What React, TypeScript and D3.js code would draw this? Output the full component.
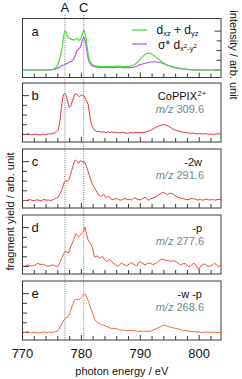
import React from "react";
import * as d3 from "d3";

const xDomain: [number, number] = [770, 803.7];
const xTickLabels = [770, 780, 790, 800];
const xMinorTicks = [770, 772, 774, 776, 778, 780, 782, 784, 786, 788, 790, 792, 794, 796, 798, 800, 802];
const yTicks = [0, 1, 2, 3, 4];
const markerEnergies = [777.2, 780.4];
const markerLabels = ["A", "C"];

const greenData: [number, number][] = [[770,0],[773,0],[774.5,0.02],[775.3,0.1],[775.8,0.35],[776.2,0.9],[776.5,1.6],[776.8,2.6],[777.0,3.5],[777.2,4.05],[777.4,3.85],[777.6,3.5],[777.9,3.3],[778.3,3.15],[778.8,3.1],[779.1,3.2],[779.3,3.25],[779.6,3.05],[779.9,3.2],[780.15,3.7],[780.4,4.07],[780.65,3.7],[780.85,3.0],[781.1,1.8],[781.4,0.95],[781.8,0.6],[782.3,0.45],[783,0.38],[784,0.35],[785,0.34],[785.8,0.38],[786.3,0.42],[786.8,0.36],[787.5,0.35],[788.3,0.4],[789.0,0.55],[789.6,0.85],[790.1,1.2],[790.6,1.5],[791.1,1.7],[791.5,1.73],[792.0,1.62],[792.6,1.35],[793.2,1.05],[793.8,0.78],[794.4,0.55],[795.1,0.38],[795.8,0.28],[796.5,0.2],[797.3,0.1],[798.5,0.03],[800,0],[803.7,0]];

const purpleData: [number, number][] = [[770,0],[774.5,0],[775.3,0.05],[775.8,0.15],[776.3,0.3],[776.8,0.48],[777.2,0.58],[777.6,0.68],[778.0,0.8],[778.5,1.0],[778.9,1.4],[779.2,1.9],[779.5,2.15],[779.8,2.35],[780.1,2.9],[780.4,3.37],[780.6,3.1],[780.8,2.5],[781.0,1.6],[781.3,0.9],[781.6,0.55],[782.0,0.38],[782.5,0.3],[783.5,0.26],[784.5,0.25],[785.5,0.25],[786.3,0.28],[787.2,0.25],[788.3,0.25],[789.2,0.35],[790.0,0.55],[790.8,0.7],[791.6,0.8],[792.3,0.85],[793.0,0.8],[793.6,0.72],[794.3,0.58],[795.1,0.4],[795.9,0.25],[796.9,0.15],[798,0.07],[799.5,0.02],[801,0],[803.7,0]];

const bData: [number, number][] = [[770,0.05],[770.5,0.0],[771,0.08],[771.5,-0.03],[772,0.05],[772.5,0.02],[773,-0.05],[773.5,0.06],[774,0.0],[774.5,0.08],[775,0.05],[775.4,0.15],[775.8,0.3],[776.1,0.45],[776.4,1.6],[776.6,2.8],[776.8,3.65],[777.0,4.15],[777.15,4.24],[777.4,4.05],[777.7,3.3],[777.95,2.8],[778.2,2.95],[778.45,3.4],[778.7,3.85],[778.95,4.2],[779.2,4.15],[779.45,4.0],[779.7,3.9],[779.95,4.05],[780.2,4.05],[780.45,3.95],[780.7,3.6],[780.95,3.4],[781.15,3.1],[781.35,2.2],[781.55,1.5],[781.75,1.0],[782.0,0.65],[782.3,0.4],[782.6,0.3],[783,0.32],[783.4,0.25],[783.8,0.28],[784.2,0.18],[784.5,0.3],[784.8,0.2],[785.2,0.28],[785.6,0.18],[786.0,0.22],[786.4,0.15],[786.9,0.25],[787.3,0.18],[787.8,0.12],[788.3,0.2],[788.8,0.15],[789.3,0.22],[789.8,0.18],[790.3,0.2],[790.8,0.25],[791.3,0.32],[791.8,0.45],[792.3,0.62],[792.8,0.78],[793.2,0.88],[793.6,0.98],[794.0,1.02],[794.4,0.95],[794.8,0.85],[795.2,0.7],[795.6,0.52],[796.0,0.45],[796.5,0.35],[797,0.28],[797.5,0.22],[798,0.18],[798.5,0.12],[799,0.15],[799.5,0.08],[800,0.1],[800.5,0.05],[801,0.08],[801.5,0.02],[802,0.06],[802.5,0.0],[803,0.08],[803.7,0.04]];

const cData: [number, number][] = [[770,0.05],[770.4,0.0],[770.8,0.03],[771.2,0.1],[771.6,0.02],[772,0.0],[772.4,0.07],[772.8,0.03],[773.2,-0.02],[773.6,0.12],[774,0.03],[774.4,0.05],[774.8,0.0],[775.2,0.08],[775.6,0.2],[776,0.3],[776.3,0.6],[776.6,1.0],[776.9,1.5],[777.1,1.9],[777.35,2.07],[777.6,2.0],[777.85,2.1],[778.1,2.55],[778.35,3.1],[778.6,3.6],[778.85,4.1],[779.0,4.17],[779.25,4.02],[779.5,3.82],[779.75,4.07],[780.0,4.05],[780.3,4.0],[780.6,3.9],[780.85,3.5],[781.1,3.05],[781.35,2.6],[781.6,2.1],[781.85,1.7],[782.1,1.45],[782.4,1.1],[782.7,0.8],[783.0,0.55],[783.2,0.42],[783.5,0.5],[783.8,0.65],[784.0,0.4],[784.25,0.28],[784.6,0.46],[784.9,0.25],[785.2,0.1],[785.6,0.15],[786.0,0.22],[786.3,0.1],[786.6,0.03],[787.0,0.12],[787.4,0.22],[787.8,0.1],[788.2,0.12],[788.5,0.05],[788.8,0.2],[789.1,0.3],[789.5,0.12],[790,0.07],[790.4,0.2],[790.8,0.35],[791.1,0.15],[791.4,0.03],[791.8,0.18],[792.2,0.28],[792.6,0.35],[793.0,0.55],[793.4,0.7],[793.9,0.86],[794.3,0.72],[794.6,0.6],[795.0,0.75],[795.5,0.7],[795.9,0.5],[796.3,0.35],[796.8,0.25],[797.2,0.2],[797.7,0.12],[798.1,0.1],[798.6,0.2],[799.2,0.17],[799.7,0.05],[800.2,0.1],[800.6,0.03],[801.2,0.14],[801.7,0.05],[802.2,0.1],[802.7,0.04],[803.2,0.12],[803.7,0.08]];

const dData: [number, number][] = [[770,0.0],[770.4,0.05],[770.9,0.17],[771.3,0.08],[771.7,0.05],[772.1,0.15],[772.6,0.34],[773.0,0.2],[773.4,0.24],[773.9,0.1],[774.3,0.0],[774.7,0.08],[775.2,0.17],[775.6,0.05],[776.0,0.0],[776.3,0.34],[776.6,0.8],[776.9,1.2],[777.2,1.55],[777.5,1.5],[777.8,1.38],[778.0,1.7],[778.2,2.07],[778.45,2.4],[778.7,2.76],[778.9,3.1],[779.1,3.38],[779.3,3.2],[779.5,3.03],[779.75,3.2],[780.0,3.38],[780.2,3.5],[780.35,3.6],[780.5,3.85],[780.6,4.07],[780.75,3.7],[780.9,3.28],[781.1,2.8],[781.25,2.6],[781.5,2.4],[781.7,2.2],[781.9,1.9],[782.05,1.4],[782.2,1.03],[782.45,1.0],[782.7,1.1],[782.9,0.9],[783.1,0.86],[783.4,1.0],[783.7,0.97],[783.95,0.7],[784.2,0.52],[784.5,0.6],[784.8,0.76],[785.1,0.55],[785.4,0.34],[785.8,0.2],[786.2,0.0],[786.5,0.2],[786.8,0.34],[787.2,0.2],[787.7,0.07],[788.1,0.25],[788.5,0.41],[789.0,0.2],[789.4,0.07],[789.9,0.52],[790.3,0.35],[790.8,0.17],[791.2,0.3],[791.7,0.34],[792.1,0.2],[792.5,0.28],[792.9,0.45],[793.3,0.65],[793.7,0.76],[794.1,0.7],[794.5,0.6],[794.8,0.62],[795.2,0.55],[795.6,0.6],[796.0,0.52],[796.4,0.35],[796.8,0.17],[797.3,0.3],[797.7,0.28],[798.0,0.1],[798.3,-0.07],[798.7,0.15],[799.1,0.34],[799.5,0.05],[799.9,-0.28],[800.3,0.05],[800.9,0.28],[801.3,0.1],[801.7,0.0],[802.2,0.15],[802.6,0.34],[803.0,0.15],[803.3,-0.05],[803.7,0.18]];

const eData: [number, number][] = [[770,0.05],[770.4,0.0],[770.8,0.08],[771.2,0.02],[771.6,-0.05],[772.0,0.05],[772.4,0.0],[772.8,-0.05],[773.2,0.03],[773.6,0.07],[774.0,0.0],[774.4,0.05],[774.8,-0.03],[775.2,0.05],[775.6,0.08],[775.9,0.14],[776.2,0.35],[776.5,0.7],[776.8,1.05],[777.05,1.3],[777.3,1.5],[777.55,1.55],[777.8,1.65],[778.0,1.95],[778.2,2.3],[778.45,2.75],[778.7,3.15],[778.95,3.4],[779.2,3.42],[779.45,3.4],[779.7,3.45],[779.95,3.6],[780.2,3.75],[780.4,3.9],[780.55,3.97],[780.75,3.85],[780.95,3.6],[781.2,3.2],[781.4,2.8],[781.6,2.45],[781.85,2.1],[782.05,1.75],[782.25,1.4],[782.5,1.15],[782.8,1.0],[783.1,0.9],[783.4,0.82],[783.8,0.75],[784.2,0.65],[784.6,0.55],[785.1,0.41],[785.5,0.45],[786.0,0.38],[786.4,0.3],[786.8,0.24],[787.2,0.28],[787.6,0.2],[788.0,0.24],[788.5,0.18],[789.0,0.2],[789.5,0.12],[790.0,0.15],[790.5,0.12],[791.0,0.14],[791.5,0.1],[792.0,0.2],[792.5,0.34],[793.0,0.48],[793.4,0.6],[793.8,0.72],[794.1,0.76],[794.4,0.7],[794.8,0.6],[795.3,0.52],[795.8,0.45],[796.3,0.38],[796.8,0.3],[797.3,0.22],[797.8,0.18],[798.3,0.14],[798.8,0.1],[799.4,0.07],[800.0,0.04],[800.6,0.0],[801.2,0.05],[801.8,0.02],[802.4,0.06],[803.0,0.0],[803.7,0.04]];

const panelLetters = ["a", "b", "c", "d", "e"];
const fragmentLabels = ["CoPPIX", "-2w", "-p", "-w -p"];
const mzLabels = ["309.6", "291.6", "277.6", "268.6"];
const fragmentSeries = [bData, cData, dData, eData];
const fragmentColors = ["#e8313a", "#ef3a36", "#f44f38", "#fb6432"];

const FONT = "Arial, 'Liberation Sans', Helvetica, sans-serif";
const LEFT = 22.5;
const RIGHT = 221;
const PANEL_H = 59;
const panelTops = [18.5, 83, 149, 215, 281];

export default function App() {
  const x = d3.scaleLinear().domain(xDomain).range([LEFT, RIGHT]);
  const yFor = (i: number) =>
    d3.scaleLinear().domain([-0.77, 5.3]).range([panelTops[i] + PANEL_H, panelTops[i]]);

  const smoothLine = (ys: d3.ScaleLinear<number, number>) =>
    d3.line<[number, number]>().x((d) => x(d[0])).y((d) => ys(d[1])).curve(d3.curveMonotoneX);
  const rawLine = (ys: d3.ScaleLinear<number, number>) =>
    d3.line<[number, number]>().x((d) => x(d[0])).y((d) => ys(d[1]));

  const axisColor = "#3a3a3a";
  const lastBottom = panelTops[4] + PANEL_H;

  const panelFrame = (i: number, rightTicks: boolean) => {
    const ys = yFor(i);
    const top = panelTops[i];
    const bottom = top + PANEL_H;
    return (
      <g key={"frame" + i}>
        <rect x={LEFT} y={top} width={RIGHT - LEFT} height={PANEL_H} fill="none" stroke={axisColor} strokeWidth={1} />
        {xMinorTicks.map((t) => (
          <line key={t} x1={x(t)} x2={x(t)} y1={bottom} y2={bottom - (t % 10 === 0 ? 5 : 4)} stroke={axisColor} strokeWidth={1} />
        ))}
        {yTicks.map((t) => {
          const len = t === 4 || t === 0 ? 6.5 : 4.5;
          return rightTicks ? (
            <line key={"y" + t} x1={RIGHT} x2={RIGHT - len} y1={ys(t)} y2={ys(t)} stroke={axisColor} strokeWidth={1} />
          ) : (
            <line key={"y" + t} x1={LEFT} x2={LEFT + len} y1={ys(t)} y2={ys(t)} stroke={axisColor} strokeWidth={1} />
          );
        })}
        <text x={35} y={ys(4)} dy="0.36em" textAnchor="middle" fontSize={13} fontFamily={FONT} fill="#111">
          {panelLetters[i]}
        </text>
      </g>
    );
  };

  const ya = yFor(0);

  return (
    <svg width={242} height={379} style={{ position: "absolute", left: 0, top: 0 }} fontFamily={FONT}>
      <rect width={242} height={379} fill="#fff" />
      {markerEnergies.map((e, k) => (
        <g key={"m" + k}>
          <line x1={x(e)} x2={x(e)} y1={15} y2={lastBottom} stroke="#777" strokeWidth={1} strokeDasharray="1,1.3" />
          <text x={x(e)} y={7} dy="0.36em" textAnchor="middle" fontSize={13} fill="#111">
            {markerLabels[k]}
          </text>
        </g>
      ))}

      {panelFrame(0, true)}
      <path d={smoothLine(ya)(purpleData) || ""} fill="none" stroke="#b35ee8" strokeWidth={1.2} />
      <path d={smoothLine(ya)(greenData) || ""} fill="none" stroke="#45e03a" strokeWidth={1.2} />
      <line x1={132} x2={147} y1={30} y2={30} stroke="#45e03a" strokeWidth={1.3} />
      <line x1={132} x2={147} y1={44} y2={44} stroke="#b35ee8" strokeWidth={1.3} />
      <text x={156.5} y={29.5} dy="0.36em" fontSize={12} fill="#111">
        <tspan>d</tspan>
        <tspan fontSize={7.5} dy={2.5}>xz</tspan>
        <tspan dy={-2.5}> + d</tspan>
        <tspan fontSize={7.5} dy={2.5}>yz</tspan>
      </text>
      <text x={158} y={44.5} dy="0.36em" fontSize={12} fill="#111">
        <tspan>σ*  d</tspan>
        <tspan fontSize={7.5} dy={2.5}>x</tspan>
        <tspan fontSize={6} dy={-3.5}>2</tspan>
        <tspan fontSize={7.5} dy={3.5}>-y</tspan>
        <tspan fontSize={6} dy={-3.5}>2</tspan>
      </text>

      {fragmentSeries.map((series, k) => {
        const i = k + 1;
        const ys = yFor(i);
        const top = panelTops[i];
        return (
          <g key={"p" + i}>
            {panelFrame(i, false)}
            <path d={rawLine(ys)(series) || ""} fill="none" stroke={fragmentColors[k]} strokeWidth={1} />
            <text x={k === 0 ? 197 : 202} y={top + 13.5} dy="0.36em" textAnchor="end" fontSize={11} fill="#111">
              {fragmentLabels[k]}
            </text>
            {k === 0 && (
              <text x={197.5} y={top + 10} dy="0.36em" fontSize={7.5} fill="#111">
                2+
              </text>
            )}
            <text x={204} y={top + 26} dy="0.36em" textAnchor="end" fontSize={11} fill="#6f8790">
              <tspan fontStyle="italic">m/z</tspan> {mzLabels[k]}
            </text>
          </g>
        );
      })}

      {xTickLabels.map((t) => (
        <text key={t} x={x(t)} y={353} dy="0.36em" textAnchor="middle" fontSize={13} fill="#111">
          {t}
        </text>
      ))}
      <text x={(LEFT + RIGHT) / 2} y={371.5} dy="0.36em" textAnchor="middle" fontSize={11} fill="#111">
        photon energy / eV
      </text>
      <text transform={`translate(10,${(panelTops[1] + lastBottom) / 2}) rotate(-90)`} dy="0.36em" textAnchor="middle" fontSize={11} fill="#111">
        fragment yield / arb. unit
      </text>
      <text transform={`translate(234,55) rotate(90)`} dy="0.36em" textAnchor="middle" fontSize={11} fill="#111">
        intensity / arb. unit
      </text>
    </svg>
  );
}
